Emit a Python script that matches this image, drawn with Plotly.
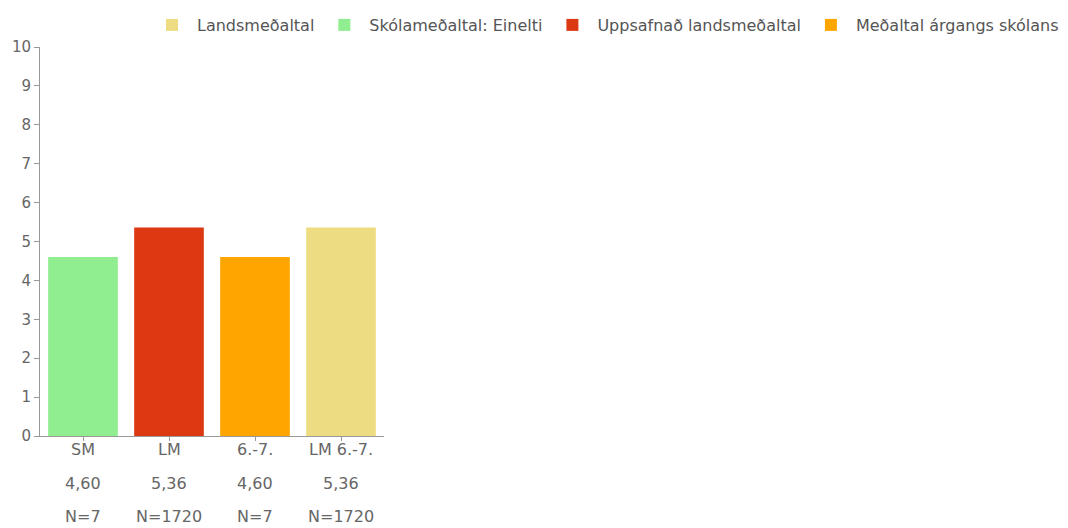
import plotly.graph_objects as go

categories = ["SM", "LM", "6.-7.", "LM 6.-7."]
values = [4.60, 5.36, 4.60, 5.36]
counts = [7, 1720, 7, 1720]
series_names = ["Skólameðaltal: Einelti", "Uppsafnað landsmeðaltal",
                "Meðaltal árgangs skólans", "Landsmeðaltal"]
colors = ["#90EE90", "#DC3912", "#FFA500", "#EEDC82"]
legend_order = [3, 0, 1, 2]
y_ticks = list(range(0, 11))

FONT = "DejaVu Sans, Liberation Sans, Arial, sans-serif"
GRAY = "#666666"

fig = go.Figure()
for i in legend_order:
    fig.add_trace(go.Bar(
        x=[categories[i]], y=[values[i]], name=series_names[i],
        marker=dict(color=colors[i], line=dict(width=0)),
        width=0.81, hoverinfo="y",
    ))

annotations = []
for c, v, n in zip(categories, values, counts):
    rows = [(c, -13), (f"{v:.2f}".replace(".", ","), -47), (f"N={n}", -80)]
    for text, shift in rows:
        annotations.append(dict(x=c, xref="x", y=0, yref="paper", yanchor="middle",
                                yshift=shift, text=text, showarrow=False,
                                font=dict(size=16, color=GRAY, family=FONT)))

fig.update_layout(
    width=1060, height=520,
    margin=dict(l=32, r=4, t=39, b=92, autoexpand=False),
    plot_bgcolor="white", paper_bgcolor="white",
    barmode="overlay",
    font=dict(family=FONT, color=GRAY),
    showlegend=True,
    legend=dict(orientation="h", x=1, xanchor="right", y=1 + 22 / 389, yref="paper",
                yanchor="middle", font=dict(size=16, color="#555555", family=FONT),
                traceorder="normal", itemwidth=40, bgcolor="rgba(0,0,0,0)"),
    xaxis=dict(domain=[0, 344 / 1024], categoryorder="array", categoryarray=categories,
               showline=True, linecolor="#999999", linewidth=1,
               ticks="outside", ticklen=4, tickcolor="#999999",
               showticklabels=False, showgrid=False, fixedrange=True,
               automargin=False),
    yaxis=dict(range=[0, 10], tickvals=y_ticks, showline=True, linecolor="#999999",
               linewidth=1, ticks="outside", ticklen=5, tickcolor="#999999",
               tickfont=dict(size=15, color=GRAY, family=FONT), showgrid=False,
               zeroline=False, fixedrange=True, automargin=False),
    annotations=annotations,
)

fig.write_html("out.html")
